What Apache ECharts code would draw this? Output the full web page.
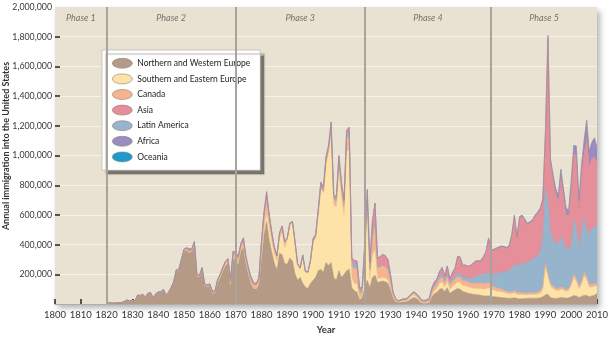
<!DOCTYPE html>
<html><head><meta charset="utf-8">
<script src="https://cdn.jsdelivr.net/npm/echarts@6/dist/echarts.min.js"></script>
<style>html,body{margin:0;padding:0;background:#fff}#c{width:611px;height:340px}</style>
</head><body><div id="c"></div>
<script>
// Annual immigration, thousands of people, one value per year 1820..2010
const firstYear = 1820, lastYear = 2010, axisStartYear = 1800;

const northWestEurope = [
  8, 9, 7, 6, 8, 10, 11, 18, 26, 21,
  22, 22, 58, 56, 63, 46, 70, 76, 43, 66,
  80, 80, 97, 58, 77, 107, 146, 225, 230, 294,
  357, 363, 344, 356, 398, 184, 183, 232, 124, 119,
  124, 72, 76, 140, 176, 220, 257, 274, 128, 310,
  291, 268, 354, 379, 266, 193, 130, 103, 100, 132,
  304, 468, 555, 430, 349, 274, 229, 342, 333, 273,
  270, 310, 290, 205, 160, 180, 140, 115, 105, 140,
  160, 180, 225, 235, 215, 280, 260, 280, 180, 160,
  225, 180, 200, 225, 235, 110, 90, 80, 30, 40,
  110, 160, 110, 180, 195, 145, 150, 155, 150, 140,
  95, 40, 15, 10, 12, 14, 14, 22, 35, 45,
  38, 22, 8, 5, 5, 8, 50, 70, 80, 100,
  105, 85, 110, 72, 85, 95, 105, 100, 85, 80,
  73, 70, 66, 64, 62, 60, 56, 55, 55, 52,
  50, 48, 46, 44, 42, 40, 40, 40, 42, 38,
  35, 36, 38, 38, 40, 40, 40, 40, 42, 50,
  62, 66, 45, 40, 38, 40, 45, 42, 40, 42,
  50, 58, 55, 45, 52, 60, 58, 50, 55, 60,
  72
];
const southEastEurope = [
  0, 0, 0, 0, 0, 0, 0, 0, 0, 0,
  0, 0, 0, 0, 0, 0, 0, 0, 0, 0,
  0, 0, 0, 0, 0, 0, 0, 0, 0, 0,
  0, 0, 0, 0, 0, 0, 0, 0, 0, 0,
  0, 0, 0, 0, 1, 1, 1, 2, 2, 3,
  4, 4, 6, 7, 7, 7, 6, 5, 5, 7,
  20, 40, 65, 92, 70, 65, 60, 100, 150, 105,
  163, 222, 253, 203, 101, 55, 180, 99, 102, 146,
  256, 269, 385, 547, 534, 664, 759, 869, 490, 496,
  674, 544, 399, 809, 799, 69, 49, 59, 10, 5,
  150, 470, 60, 150, 170, 25, 25, 25, 25, 22,
  15, 10, 5, 3, 5, 6, 6, 9, 14, 18,
  12, 8, 3, 2, 2, 3, 10, 20, 25, 40,
  45, 30, 45, 28, 35, 40, 45, 45, 42, 44,
  43, 42, 40, 42, 42, 44, 46, 48, 55, 45,
  45, 40, 40, 40, 36, 33, 30, 30, 35, 28,
  30, 28, 25, 25, 25, 25, 25, 28, 30, 50,
  190, 120, 75, 65, 55, 50, 55, 55, 45, 50,
  75, 120, 100, 60, 80, 130, 110, 65, 60, 60,
  50
];
const canada = [
  0, 0, 0, 0, 0, 0, 0, 1, 1, 1,
  1, 1, 2, 2, 2, 2, 2, 2, 2, 2,
  2, 2, 3, 2, 3, 3, 4, 5, 5, 6,
  10, 12, 10, 10, 10, 8, 8, 8, 6, 6,
  6, 6, 8, 18, 20, 22, 25, 26, 25, 30,
  40, 40, 37, 38, 33, 24, 22, 22, 24, 30,
  90, 100, 95, 70, 60, 40, 35, 35, 40, 40,
  10, 10, 10, 10, 8, 8, 8, 6, 6, 6,
  5, 5, 5, 5, 10, 15, 20, 25, 35, 35,
  55, 55, 55, 85, 95, 80, 100, 100, 35, 30,
  90, 75, 60, 130, 185, 75, 75, 80, 75, 70,
  50, 20, 9, 6, 7, 8, 9, 11, 12, 12,
  12, 11, 10, 9, 10, 12, 22, 25, 27, 30,
  30, 30, 32, 30, 32, 32, 35, 35, 33, 34,
  34, 33, 32, 35, 38, 40, 38, 35, 35, 25,
  25, 22, 20, 18, 15, 13, 13, 13, 15, 13,
  14, 13, 12, 12, 12, 12, 12, 13, 15, 18,
  20, 20, 18, 17, 16, 15, 15, 14, 12, 12,
  18, 22, 22, 15, 18, 25, 22, 18, 18, 18,
  15
];
const latinAmerica = [
  0, 0, 0, 0, 0, 0, 0, 0, 0, 0,
  0, 0, 0, 0, 0, 0, 0, 0, 0, 0,
  0, 0, 0, 0, 0, 0, 0, 0, 0, 0,
  1, 1, 1, 1, 1, 1, 1, 1, 1, 1,
  1, 1, 1, 1, 1, 1, 1, 1, 1, 1,
  1, 1, 1, 1, 1, 1, 1, 1, 1, 1,
  1, 1, 1, 1, 1, 1, 1, 1, 1, 1,
  1, 1, 1, 1, 1, 1, 1, 1, 1, 1,
  2, 2, 2, 3, 3, 5, 8, 10, 12, 15,
  20, 20, 25, 25, 30, 25, 30, 30, 20, 20,
  5, 5, 5, 5, 5, 5, 5, 5, 5, 5,
  5, 4, 3, 2, 2, 2, 2, 2, 3, 3,
  4, 5, 4, 4, 6, 8, 12, 15, 18, 22,
  20, 15, 18, 12, 15, 18, 25, 25, 22, 24,
  26, 30, 38, 45, 51, 55, 60, 65, 70, 80,
  84, 95, 105, 113, 125, 134, 145, 160, 178, 170,
  191, 195, 200, 206, 215, 225, 237, 248, 260, 322,
  508, 494, 342, 318, 293, 305, 342, 309, 272, 271,
  248, 367, 346, 260, 330, 374, 311, 346, 367, 385,
  393
];
const asia = [
  0, 0, 0, 0, 0, 0, 0, 0, 0, 0,
  0, 0, 0, 0, 0, 0, 0, 0, 0, 0,
  0, 0, 0, 0, 0, 0, 0, 0, 0, 0,
  3, 3, 18, 4, 12, 3, 4, 5, 5, 3,
  5, 7, 4, 7, 3, 2, 2, 3, 5, 12,
  15, 8, 8, 21, 14, 16, 22, 10, 9, 9,
  6, 12, 40, 8, 1, 1, 1, 1, 2, 2,
  2, 3, 2, 2, 1, 2, 2, 2, 2, 3,
  17, 14, 23, 30, 28, 26, 23, 40, 22, 13,
  25, 20, 20, 25, 30, 25, 25, 20, 15, 15,
  45, 60, 45, 95, 125, 60, 65, 70, 70, 63,
  35, 6, 3, 2, 3, 5, 5, 6, 4, 5,
  5, 6, 4, 4, 6, 7, 15, 17, 20, 28,
  45, 30, 50, 28, 43, 55, 110, 110, 78, 80,
  77, 85, 97, 102, 97, 94, 117, 149, 227, 160,
  161, 168, 169, 172, 164, 156, 163, 220, 323, 199,
  312, 320, 291, 255, 254, 255, 276, 281, 287, 259,
  355, 1085, 470, 400, 348, 280, 398, 310, 236, 215,
  389, 448, 477, 270, 385, 421, 619, 451, 480, 467,
  425
];
const africa = [
  0, 0, 0, 0, 0, 0, 0, 0, 0, 0,
  0, 0, 0, 0, 0, 0, 0, 0, 0, 0,
  0, 0, 0, 0, 0, 0, 0, 0, 0, 0,
  0, 0, 0, 0, 0, 0, 0, 0, 0, 0,
  0, 0, 0, 0, 0, 0, 0, 0, 0, 0,
  0, 0, 0, 0, 0, 0, 0, 0, 0, 0,
  0, 0, 0, 0, 0, 0, 0, 0, 0, 0,
  0, 0, 0, 0, 0, 0, 0, 0, 0, 0,
  0, 0, 0, 0, 0, 0, 0, 1, 1, 1,
  1, 1, 1, 1, 1, 1, 1, 1, 0, 0,
  0, 0, 0, 0, 0, 0, 0, 0, 0, 0,
  0, 0, 0, 0, 0, 0, 0, 0, 0, 0,
  0, 0, 0, 0, 0, 0, 0, 0, 0, 0,
  1, 1, 1, 1, 1, 1, 1, 1, 1, 1,
  1, 1, 1, 1, 1, 1, 2, 2, 2, 2,
  3, 3, 3, 3, 4, 4, 5, 5, 5, 5,
  5, 5, 6, 6, 6, 7, 7, 7, 8, 8,
  10, 20, 25, 25, 25, 35, 50, 45, 40, 35,
  45, 50, 60, 45, 65, 85, 115, 95, 105, 125,
  100
];
const oceania = [
  0, 0, 0, 0, 0, 0, 0, 0, 0, 0,
  0, 0, 0, 0, 0, 0, 0, 0, 0, 0,
  0, 0, 0, 0, 0, 0, 0, 0, 0, 0,
  0, 0, 0, 0, 0, 0, 0, 0, 0, 0,
  0, 0, 0, 0, 0, 0, 0, 0, 0, 0,
  0, 0, 0, 0, 0, 0, 0, 0, 0, 0,
  0, 0, 0, 0, 0, 0, 0, 0, 0, 0,
  0, 0, 0, 0, 0, 0, 0, 0, 0, 0,
  0, 0, 0, 0, 0, 0, 0, 0, 0, 0,
  0, 0, 0, 0, 0, 0, 0, 0, 0, 0,
  0, 0, 0, 0, 0, 0, 0, 0, 0, 0,
  0, 0, 0, 0, 0, 0, 0, 0, 0, 0,
  0, 0, 0, 0, 0, 0, 0, 0, 0, 0,
  1, 1, 1, 1, 1, 1, 1, 1, 1, 1,
  1, 1, 1, 1, 1, 1, 1, 1, 1, 1,
  2, 2, 2, 2, 2, 2, 2, 2, 2, 2,
  3, 3, 3, 3, 3, 3, 3, 3, 3, 3,
  5, 5, 5, 5, 5, 5, 5, 5, 5, 5,
  5, 5, 5, 5, 5, 5, 5, 5, 5, 5,
  5
];

const seriesNames = ['Northern and Western Europe', 'Southern and Eastern Europe', 'Canada',
  'Latin America', 'Asia', 'Africa', 'Oceania'];
const legendOrder = ['Northern and Western Europe', 'Southern and Eastern Europe', 'Canada',
  'Asia', 'Latin America', 'Africa', 'Oceania'];
const seriesValues = [northWestEurope, southEastEurope, canada, latinAmerica, asia, africa, oceania];
const seriesColors = ['#b59a86', '#fde3a7', '#f5b48f', '#97b4cd', '#e48f99', '#9b8cbf', '#1c9bcc'];
const edgeColors = ['#a68b77', '#e6cb90', '#e4a482', '#8aa6c0', '#d5848e', '#8d7fae', '#a2949c'];

const yTickValues = [200, 400, 600, 800, 1000, 1200, 1400, 1600, 1800, 2000];
const yTickLabels = ['200,000', '400,000', '600,000', '800,000', '1,000,000', '1,200,000',
  '1,400,000', '1,600,000', '1,800,000', '2,000,000'];
const yTickMarks = [200, 400, 600, 800, 1000, 1200, 1400, 1600, 1800];
const phaseNames = ['Phase 1', 'Phase 2', 'Phase 3', 'Phase 4', 'Phase 5'];
const phaseBounds = ['1800', '1820', '1870', '1920', '1969', '2010'];
const phaseLines = ['1820', '1870', '1920', '1969'];

// category axis: every year from 1800 to 2010
const yearCats = [];
for (let y = axisStartYear; y <= lastYear; y++) yearCats.push(String(y));

const FONT = 'Lato';
const chart = echarts.init(document.getElementById('c'), null, {renderer: 'canvas'});

const areaSeries = seriesNames.map((name, k) => ({
  type: 'line', name: name, stack: 'total', z: 2, silent: true,
  symbol: 'none', showSymbol: false,
  data: yearCats.map(y => (+y < firstYear ? null : seriesValues[k][+y - firstYear])),
  itemStyle: {color: seriesColors[k]},
  lineStyle: {width: 0.5, color: edgeColors[k]},
  areaStyle: {color: seriesColors[k], opacity: 1}
}));

const phaseSeries = {
  type: 'line', name: 'phases', z: 1, silent: true, data: [],
  markLine: {
    silent: true, symbol: ['none', 'none'], label: {show: false},
    lineStyle: {color: '#a8a49c', width: 2, type: 'solid'},
    data: phaseLines.map(v => ({xAxis: v}))
  },
  markArea: {
    silent: true,
    itemStyle: {color: 'rgba(0,0,0,0)'},
    label: {show: true, position: 'insideTop', distance: 7, fontStyle: 'italic',
      fontSize: 9, color: '#77736c', fontFamily: FONT},
    data: phaseNames.map((n, i) => [{name: n, xAxis: phaseBounds[i]}, {xAxis: phaseBounds[i + 1]}])
  }
};

chart.setOption({
  animation: false,
  grid: {
    left: 55, right: 10, top: 7, bottom: 29, show: true,
    backgroundColor: '#e9e2d3', borderWidth: 0,
    shadowColor: 'rgba(0,0,0,0.3)', shadowBlur: 6, shadowOffsetX: 3, shadowOffsetY: 4
  },
  legend: {
    data: legendOrder.map(n => ({name: n})),
    orient: 'vertical', left: 102, top: 50, padding: [8, 10, 8, 10],
    backgroundColor: '#ffffff', borderColor: '#b0aca6', borderWidth: 0.6,
    shadowColor: 'rgba(95,90,85,0.8)', shadowBlur: 1, shadowOffsetX: 4, shadowOffsetY: 4,
    itemWidth: 20, itemHeight: 11, itemGap: 5, selectedMode: false,
    icon: 'path://M0,5a10,5 0 1,0 20,0a10,5 0 1,0 -20,0z',
    itemStyle: {borderColor: '#8d8178', borderWidth: 0.6},
    textStyle: {fontFamily: FONT, fontSize: 8.5, color: '#222'}
  },
  xAxis: {
    type: 'category', data: yearCats, boundaryGap: false,
    name: 'Year', nameLocation: 'middle', nameGap: 17,
    nameTextStyle: {fontFamily: FONT, fontWeight: 'bold', fontSize: 9.5, color: '#333'},
    axisLine: {show: true, lineStyle: {color: '#b2aea6', width: 1}},
    axisTick: {show: true, inside: true, length: 5, interval: 9, lineStyle: {color: '#222', width: 1.5}},
    axisLabel: {fontFamily: FONT, fontSize: 9.5, color: '#333', margin: 6, interval: 9},
    splitLine: {show: false}
  },
  yAxis: {
    type: 'value', min: 0, max: 2000, interval: 200,
    axisLine: {show: false},
    axisTick: {show: true, inside: true, length: 5, customValues: yTickMarks,
      lineStyle: {color: '#222', width: 1.5}},
    axisLabel: {fontFamily: FONT, fontSize: 8.8, color: '#3a3a3a', margin: 3,
      customValues: yTickValues,
      formatter: v => yTickLabels[yTickValues.indexOf(v)] || ''},
    splitLine: {show: true, lineStyle: {color: '#f7f2e8', width: 1}}
  },
  graphic: [{
    type: 'text', x: 6, y: 146, rotation: Math.PI / 2, silent: true,
    style: {text: 'Annual immigration into the United States', fontFamily: FONT,
      fontSize: 9, fontWeight: 'bold', fill: '#333', align: 'center', verticalAlign: 'middle'}
  }],
  series: [phaseSeries].concat(areaSeries)
});
</script></body></html>
